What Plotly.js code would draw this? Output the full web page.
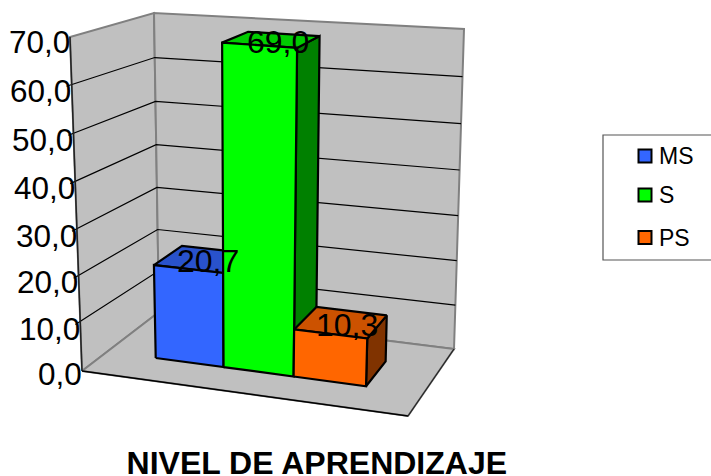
<!DOCTYPE html>
<html><head><meta charset="utf-8">
<script src="https://cdn.plot.ly/plotly-3.0.1.min.js"></script>
<style>html,body{margin:0;padding:0;background:#fff}#c{width:711px;height:476px}</style>
</head><body><div id="c"></div>
<script>
const categories = ['MS','S','PS'];
const values = [20.7,69.0,10.3];
const valueLabels = ['20,7','69,0','10,3'];
const frontColors = ['#3366FF','#00FF00','#FF6600'];
const topColors = ['#2952CC','#00CC00','#CC5200'];
const sideColors = ['#1A3380','#008000','#803300'];
const ticks = [0,10,20,30,40,50,60,70];
const tickLabels = ['0,0','10,0','20,0','30,0','40,0','50,0','60,0','70,0'];
const axisTitle = 'NIVEL DE APRENDIZAJE';
const axisMax = 70;

// Corners of the drawn 3D box on the x/y axes [x,y]
const box = {
  fbl:[82,371], fbr:[408,416], bbl:[159,312], bbr:[454,349],
  ftl:[70,37],  ftr:[422,64],  btl:[154,13],  btr:[464,29]
};
const persp = 1.05, perspU = 1.05;
const U0 = 0.153, UW = 0.666, V0 = 0.33, V1 = 0.71;

function warp(r,k){return r/(r+(1-r)*k);}
function barU(i){return U0+UW*warp(i/categories.length,perspU);}
function lerp(a,b,s){return [a[0]+(b[0]-a[0])*s,a[1]+(b[1]-a[1])*s];}
function project(u,v,val){
  const t = warp(val/axisMax,persp);
  const bot = lerp(lerp(box.fbl,box.fbr,u),lerp(box.bbl,box.bbr,u),v);
  const top = lerp(lerp(box.ftl,box.ftr,u),lerp(box.btl,box.btr,u),v);
  return lerp(bot,top,t);
}
function poly(pts,fill,lineColor,w,name){
  const p = pts.concat([pts[0]]);
  return {x:p.map(q=>q[0]),y:p.map(q=>q[1]),mode:'lines',fill:'toself',fillcolor:fill,
    line:{color:lineColor,width:w},hoverinfo:'skip',showlegend:false,name:name||''};
}
function seg(a,b,color,w){
  return {x:[a[0],b[0]],y:[a[1],b[1]],mode:'lines',line:{color:color,width:w},hoverinfo:'skip',showlegend:false};
}
const traces = [];
const wall='#C0C0C0', edge='#808080';
// walls & floor
traces.push(poly([project(0,0,0),project(0,1,0),project(0,1,axisMax),project(0,0,axisMax)],wall,edge,2));
traces.push(poly([project(0,1,0),project(1,1,0),project(1,1,axisMax),project(0,1,axisMax)],wall,edge,2));
traces.push(poly([project(0,0,0),project(1,0,0),project(1,1,0),project(0,1,0)],wall,edge,2));
// gridlines
ticks.forEach(tk=>{
  if(tk>0 && tk<axisMax){
    traces.push({x:[project(-0.015,0,tk)[0],project(0,1,tk)[0],project(1,1,tk)[0]],
                 y:[project(-0.015,0,tk)[1],project(0,1,tk)[1],project(1,1,tk)[1]],
                 mode:'lines',line:{color:'#000',width:1.2},hoverinfo:'skip',showlegend:false});
  }
});
// dark front edges
traces.push(seg(project(0,0,axisMax),project(0,0,0),'#222',1.5));
traces.push(seg(project(0,0,0),project(1,0,0),'#000',1.5));
traces.push(seg(project(1,0,0),project(1,1,0),'#222',1.2));
// bars
values.forEach((val,i)=>{
  const u0=barU(i),u1=barU(i+1);
  traces.push(poly([project(u1,V0,0),project(u1,V1,0),project(u1,V1,val),project(u1,V0,val)],sideColors[i],'#000',2.2));
  traces.push(poly([project(u0,V0,val),project(u1,V0,val),project(u1,V1,val),project(u0,V1,val)],topColors[i],'#000',2.2));
  traces.push(poly([project(u0,V0,0),project(u1,V0,0),project(u1,V0,val),project(u0,V0,val)],frontColors[i],'#000',2.2,categories[i]));
});
// legend swatches & labels
const legendX=645, legendTextX=657, legendY=[156,195,237.5];
categories.forEach((c,i)=>{
  traces.push({x:[legendX],y:[legendY[i]],mode:'markers',name:c,showlegend:false,hoverinfo:'name',
    marker:{symbol:'square',size:13,color:frontColors[i],line:{color:'#000',width:2}}});
});
const font='"Liberation Sans", Arial, sans-serif';
const annotations=[];
ticks.forEach((tk,i)=>{
  const p=project(0,0,tk);
  annotations.push({x:p[0]+1.5,y:p[1]+3+2*tk/axisMax,xref:'x',yref:'y',text:tickLabels[i],showarrow:false,
    xanchor:'right',yanchor:'middle',font:{family:font,size:31.5,color:'#000'}});
});
values.forEach((val,i)=>{
  const p=project((barU(i)+barU(i+1))/2,(V0+V1)/2,val);
  annotations.push({x:p[0]+6,y:p[1]+2,xref:'x',yref:'y',text:valueLabels[i],showarrow:false,
    xanchor:'center',yanchor:'middle',font:{family:font,size:32,color:'#000'}});
});
categories.forEach((c,i)=>{
  annotations.push({x:legendTextX,y:legendY[i],xref:'x',yref:'y',text:c,showarrow:false,
    xanchor:'left',yanchor:'middle',font:{family:font,size:23,color:'#000'}});
});
const layout={
  width:711,height:476,margin:{l:0,r:0,t:0,b:0},paper_bgcolor:'#fff',plot_bgcolor:'#fff',showlegend:false,
  xaxis:{range:[0,711],visible:false,fixedrange:true},
  yaxis:{range:[476,0],visible:false,fixedrange:true},
  title:{text:axisTitle,x:316.8/711,xanchor:'center',y:1-463/476,yanchor:'middle',yref:'paper',xref:'paper',
    font:{family:font,size:32,weight:'bold',color:'#000'}},
  shapes:[{type:'rect',xref:'x',yref:'y',x0:603,x1:730,y0:135,y1:260,line:{color:'#555',width:1.2},fillcolor:'#fff',layer:'below'}],
  annotations
};
Plotly.newPlot('c',traces,layout,{displayModeBar:false,staticPlot:true});
</script></body></html>
